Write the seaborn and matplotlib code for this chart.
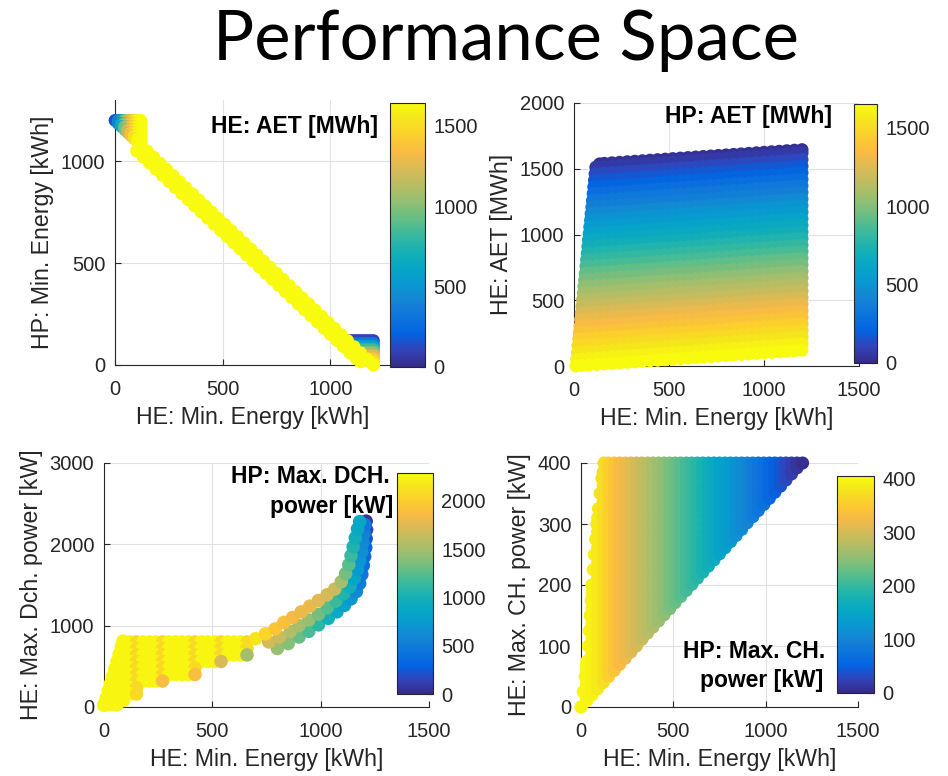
import matplotlib
matplotlib.use("Agg")
import matplotlib.pyplot as plt
import pandas as pd
import seaborn as sns
from matplotlib.colors import LinearSegmentedColormap, Normalize
from matplotlib.cm import ScalarMappable

sns.set_theme(style="white")
plt.rcParams["font.family"] = ["Liberation Sans", "DejaVu Sans"]

INK = "#262626"
GRID = "#e1e1e1"

# MATLAB "parula" colour map (every 4th entry of the 64-step table)
parula = LinearSegmentedColormap.from_list("parula", [
    (0.2081, 0.1663, 0.5292), (0.1959, 0.2645, 0.7279), (0.0117, 0.3875, 0.8820),
    (0.0498, 0.4586, 0.8641), (0.0793, 0.5200, 0.8312), (0.0343, 0.5966, 0.8199),
    (0.0228, 0.6535, 0.7768), (0.0843, 0.6928, 0.7062), (0.2178, 0.7250, 0.6193),
    (0.3953, 0.7459, 0.5244), (0.5709, 0.7485, 0.4494), (0.7184, 0.7411, 0.3905),
    (0.8507, 0.7299, 0.3360), (0.9739, 0.7314, 0.2666), (0.9880, 0.8066, 0.1794),
    (0.9589, 0.8949, 0.1132), (0.9763, 0.9831, 0.0538)])

# ---------------- panel 1: HE min energy vs HP min energy, colour = HE AET ----------------
p1_band = [(120, 1080), (150, 1050), (180, 1020), (210, 990), (240, 960), (270, 930),
           (300, 900), (330, 870), (360, 840), (390, 810), (420, 780), (450, 750),
           (480, 720), (510, 690), (540, 660), (570, 630), (600, 600), (630, 570),
           (660, 540), (690, 510), (720, 480), (750, 450), (780, 420), (810, 390),
           (840, 360), (870, 330), (900, 300), (930, 270), (960, 240), (990, 210),
           (1020, 180), (1050, 150), (1080, 120), (1110, 90), (1140, 60), (1170, 30),
           (1200, 0),
           (100, 1050), (130, 1020), (160, 990), (190, 960), (220, 930), (250, 900),
           (280, 870), (310, 840), (340, 810), (370, 780), (400, 750), (430, 720),
           (460, 690), (490, 660), (520, 630), (550, 600), (580, 570), (610, 540),
           (640, 510), (670, 480), (700, 450), (730, 420), (760, 390), (790, 360),
           (820, 330), (850, 300), (880, 270), (910, 240), (940, 210), (970, 180),
           (1000, 150), (1030, 120), (1060, 90), (1090, 60), (1120, 30), (1140, 15)]
p1_band_aet = 1640
p1_corner_mask = ["#########", ".########", "..#######", "...######", "....#####",
                  ".....####", "......###", ".......##", "........#"]
p1_tl_x = [0, 15, 30, 45, 60, 75, 90, 105, 120]
p1_tl_y = [1200, 1185, 1170, 1155, 1140, 1125, 1110, 1095, 1080]
p1_tl_aet = [150, 380, 650, 950, 1150, 1350, 1500, 1620, 1640]      # per column
p1_br_x = [1080, 1095, 1110, 1125, 1140, 1155, 1170, 1185, 1200]
p1_br_y = [120, 105, 90, 75, 60, 45, 30, 15, 0]
p1_br_aet = [100, 330, 600, 850, 1050, 1250, 1400, 1550, 1640]      # per row

# ---------------- panel 2: HE min energy vs HE AET, colour = HP AET ----------------
p2_he_energy = [0, 40, 80, 120, 160, 200, 240, 280, 320, 360, 400, 440, 480, 520, 560,
                600, 640, 680, 720, 760, 800, 840, 880, 920, 960, 1000, 1040, 1080,
                1120, 1160, 1200]
p2_aet_rise = [0, 4, 8, 12, 16, 20, 24, 28, 32, 36, 40, 44, 48, 52, 56, 60, 64, 68,
               72, 76, 80, 84, 88, 92, 96, 100, 104, 108, 112, 116, 120]
p2_band_aet = [1525, 1500, 1450, 1400, 1350, 1300, 1250, 1200, 1150, 1100, 1050, 1000,
               950, 900, 850, 800, 750, 700, 650, 600, 550, 500, 450, 400, 350, 300,
               250, 200, 150, 100, 50, 0]
p2_band_left = [135, 115, 111, 108, 104, 101, 97, 94, 90, 87, 83, 80, 76, 73, 70, 66,
                63, 59, 56, 52, 49, 45, 42, 39, 35, 32, 28, 25, 21, 18, 14, 10]
p2_band_hp_aet = [30, 70, 120, 170, 220, 280, 330, 380, 440, 490, 540, 600, 650, 700,
                  760, 810, 860, 920, 970, 1020, 1080, 1130, 1180, 1240, 1290, 1340,
                  1390, 1450, 1500, 1550, 1600, 1650]

# ---------------- panel 3: HE min energy vs HE max DCH power, colour = HP max DCH power ----------------
p3_x = [0, 30, 60, 90, 120, 150, 180, 210, 240, 270, 300, 330, 360, 390, 420, 450,
        480, 510, 540, 570, 600, 630, 660]
p3_y = [800, 720, 640, 560, 480, 400, 320, 240, 160, 80, 30]
p3_levels = {"Y": 2260, "y": 2080, "o": 1880, "O": 1720, "g": 1500}
p3_map = [
    "...YYyYYYyYYYYyYYYyYYYy",
    "...YYyYYYyYYYYyYYYyYYYy",
    "...YYyYYYyYYYYyYYYyYYYg",
    "...YYyYYYyYYYYyYYYO",
    "..YYYyYYYyYYYYy",
    "..YYYyYYYyYYYYo",
    "..YYYyYYYo",
    "..YYYy",
    ".YYYYy",
    ".YYY",
    "YYY",
]
p3_ramp = [(0, 20, 2260), (10, 110, 2260), (20, 200, 2260), (30, 290, 2260),
           (40, 380, 2260), (50, 470, 2260), (60, 560, 2260), (70, 650, 2260),
           (80, 740, 2260), (88, 810, 2260)]
p3_curve = [
    (800, 720, 1450), (850, 780, 1400), (900, 860, 1300), (945, 930, 1200),
    (990, 1010, 1100), (1035, 1090, 1000), (1075, 1170, 900), (1110, 1250, 800),
    (1140, 1330, 700), (1165, 1420, 600), (1180, 1520, 500), (1190, 1630, 450),
    (1197, 1740, 400), (1203, 1850, 350), (1208, 1960, 300), (1210, 2070, 250),
    (1212, 2180, 150), (1210, 2285, 60),
    (760, 800, 1700), (810, 860, 1650), (860, 930, 1550), (900, 1000, 1500),
    (945, 1070, 1450), (990, 1140, 1350), (1030, 1220, 1250), (1070, 1300, 1150),
    (1105, 1390, 1050), (1135, 1480, 950), (1155, 1580, 850), (1170, 1690, 750),
    (1180, 1800, 700), (1190, 1910, 650), (1195, 2020, 600), (1200, 2130, 550),
    (1205, 2240, 450),
    (700, 840, 2150), (745, 900, 2050), (790, 960, 1950), (830, 1040, 1900),
    (870, 1100, 1850), (910, 1170, 1800), (950, 1240, 1800), (990, 1310, 1750),
    (1030, 1380, 1700), (1065, 1450, 1650), (1095, 1540, 1500), (1115, 1640, 1350),
    (1130, 1750, 1250), (1140, 1860, 1150), (1150, 1970, 1050), (1160, 2080, 950),
    (1170, 2190, 900), (1180, 2280, 850),
]

# ---------------- panel 4: HE min energy vs HE max CH power, colour = HP max CH power ----------------
p4_he_energy = [0, 30, 60, 90, 120, 150, 180, 210, 240, 270, 300, 330, 360, 390, 420,
                450, 480, 510, 540, 570, 600, 630, 660, 690, 720, 750, 780, 810, 840,
                870, 900, 930, 960, 990, 1020, 1050, 1080, 1110, 1140, 1170, 1200]
p4_col_low = [0, 10, 20, 30, 40, 50, 60, 70, 80, 90, 100, 111, 121, 131, 141, 151, 161,
              171, 181, 191, 201, 211, 221, 231, 241, 251, 261, 271, 281, 291, 302, 312,
              322, 332, 342, 352, 362, 372, 382, 392, 400]
p4_col_high = [0, 70, 200, 310, 385] + [400] * 36
p4_hp_power = [400, 398, 393, 385, 372, 355, 342, 330, 320, 310, 300, 290, 280, 270,
               260, 250, 240, 230, 220, 210, 200, 190, 180, 170, 160, 150, 140, 130,
               120, 110, 100, 90, 80, 70, 60, 50, 40, 30, 20, 12, 5]
p4_power_rows = [0, 12.5, 25, 37.5, 50, 62.5, 75, 87.5, 100, 112.5, 125, 137.5, 150,
                 162.5, 175, 187.5, 200, 212.5, 225, 237.5, 250, 262.5, 275, 287.5, 300,
                 312.5, 325, 337.5, 350, 362.5, 375, 387.5, 400]
p4_left_edge = [(0, 0, 400), (12, 25, 399), (22, 50, 399), (32, 75, 398), (40, 100, 397),
                (45, 125, 396), (50, 150, 395), (55, 175, 394), (60, 200, 393),
                (66, 225, 391), (72, 250, 390), (79, 275, 388), (86, 300, 386),
                (94, 325, 383), (103, 350, 380), (113, 375, 376), (125, 400, 371)]


def coded_cells(rows, xs, ys, levels):
    recs = [(x, y, levels[ch]) for y, row in zip(ys, rows)
            for x, ch in zip(xs, row) if ch != "."]
    return pd.DataFrame(recs, columns=["x", "y", "c"])


def masked_cells(rows, xs, ys, col_values=None, row_values=None):
    recs = []
    for i, (y, row) in enumerate(zip(ys, rows)):
        for j, (x, ch) in enumerate(zip(xs, row)):
            if ch == "#":
                c = col_values[j] if col_values is not None else row_values[i]
                recs.append((x, y, c))
    return pd.DataFrame(recs, columns=["x", "y", "c"])


def band_cells():
    recs = []
    for base, left, c in zip(p2_band_aet, p2_band_left, p2_band_hp_aet):
        near = min(range(len(p2_he_energy)), key=lambda j: abs(p2_he_energy[j] - left))
        recs.append((left, base + p2_aet_rise[near], c))
        for x, rise in zip(p2_he_energy, p2_aet_rise):
            if x > left:
                recs.append((x, base + rise, c))
    return pd.DataFrame(recs, columns=["x", "y", "c"])


def column_cells():
    recs = list(p4_left_edge)
    for x, lo, hi, c in zip(p4_he_energy, p4_col_low, p4_col_high, p4_hp_power):
        recs.append((x, lo, c))
        recs.extend((x, y, c) for y in p4_power_rows if lo < y < hi)
        if hi > lo:
            recs.append((x, hi, c))
    return pd.DataFrame(recs, columns=["x", "y", "c"])


W, H = 948, 776


def rect(l, t, r, b):
    return [l / W, 1 - b / H, (r - l) / W, (b - t) / H]


fig = plt.figure(figsize=(W / 100, H / 100), dpi=100)
fig.patch.set_facecolor("white")


def dots(ax, df, norm, size):
    sns.scatterplot(data=df, x="x", y="y", hue="c", palette=parula, hue_norm=norm,
                    s=size, linewidth=0, legend=False, ax=ax, clip_on=False, zorder=3)


def style(ax, xlim, ylim, xticks, yticks, xlabel, ylabel):
    ax.set_xlim(*xlim)
    ax.set_ylim(*ylim)
    ax.set_xticks(xticks)
    ax.set_yticks(yticks)
    ax.set_facecolor("white")
    ax.grid(True, color=GRID, linewidth=0.8)
    ax.set_axisbelow(True)
    for s in ("top", "right"):
        ax.spines[s].set_visible(False)
    for s in ("left", "bottom"):
        ax.spines[s].set_color(INK)
        ax.spines[s].set_linewidth(0.8)
    ax.tick_params(axis="both", direction="in", length=4, width=0.8, colors=INK,
                   labelsize=14.5, bottom=True, left=True)
    ax.tick_params(axis="x", pad=11)
    ax.tick_params(axis="y", pad=7)
    ax.set_xlabel(xlabel, fontsize=16.7, color=INK, labelpad=5)
    ax.set_ylabel(ylabel, fontsize=16.7, color=INK, labelpad=5)


def colorbar(r, norm, ticks):
    cax = fig.add_axes(rect(*r))
    cb = fig.colorbar(ScalarMappable(norm=norm, cmap=parula), cax=cax, ticks=ticks)
    cb.outline.set_edgecolor(INK)
    cb.outline.set_linewidth(0.8)
    cax.tick_params(direction="in", length=4, width=0.8, colors=INK, labelsize=14.5, pad=6)


def note(x, y, s):
    fig.text(x / W, 1 - y / H, s, ha="right", va="baseline", fontsize=16.5,
             fontweight="bold", color="black", zorder=10)


# panel 1
ax1 = fig.add_axes(rect(115, 100, 390, 365))
n1 = Normalize(0, 1640)
p1_df = pd.concat([
    masked_cells(p1_corner_mask, p1_tl_x, p1_tl_y, col_values=p1_tl_aet),
    masked_cells(p1_corner_mask, p1_br_x, p1_br_y, row_values=p1_br_aet),
    pd.DataFrame([(x, y, p1_band_aet) for x, y in p1_band], columns=["x", "y", "c"]),
], ignore_index=True)
dots(ax1, p1_df, n1, 85)
style(ax1, (0, 1277), (0, 1300), [0, 500, 1000], [0, 500, 1000],
      "HE: Min. Energy [kWh]", "HP: Min. Energy [kWh]")
colorbar((390, 103, 425, 367), n1, [0, 500, 1000, 1500])
note(378, 133, "HE: AET [MWh]")

# panel 2
ax2 = fig.add_axes(rect(574, 103, 859, 366))
n2 = Normalize(0, 1650)
dots(ax2, band_cells(), n2, 88)
style(ax2, (0, 1500), (0, 2000), [0, 500, 1000, 1500], [0, 500, 1000, 1500, 2000],
      "HE: Min. Energy [kWh]", "HE: AET [MWh]")
colorbar((854, 104, 877, 363), n2, [0, 500, 1000, 1500])
note(832, 123, "HP: AET [MWh]")

# panel 3
ax3 = fig.add_axes(rect(104, 463, 429, 707))
n3 = Normalize(0, 2290)
p3_df = pd.concat([
    coded_cells(p3_map, p3_x, p3_y, p3_levels),
    pd.DataFrame(p3_ramp, columns=["x", "y", "c"]),
    pd.DataFrame(p3_curve, columns=["x", "y", "c"]),
], ignore_index=True)
dots(ax3, p3_df, n3, 95)
style(ax3, (0, 1500), (0, 3000), [0, 500, 1000, 1500], [0, 1000, 2000, 3000],
      "HE: Min. Energy [kWh]", "HE: Max. Dch. power [kW]")
colorbar((397, 473, 433, 694), n3, [0, 500, 1000, 1500, 2000])
note(390, 483, "HP: Max. DCH.")
note(393, 513, "power [kW]")

# panel 4
ax4 = fig.add_axes(rect(581, 463, 858, 707))
n4 = Normalize(0, 405)
dots(ax4, column_cells(), n4, 88)
style(ax4, (0, 1500), (0, 400), [0, 500, 1000, 1500], [0, 100, 200, 300, 400],
      "HE: Min. Energy [kWh]", "HE: Max. CH. power [kW]")
colorbar((837, 476, 874, 693), n4, [0, 100, 200, 300, 400])
note(825, 658, "HP: Max. CH.")
note(823, 687, "power [kW]")

fig.text(506 / W, 1 - 60 / H, "Performance Space", ha="center", va="baseline",
         fontsize=49.5, family=["Lato", "DejaVu Sans"], fontweight=400, color="black")

fig.savefig("out.png", dpi=100, facecolor="white")
